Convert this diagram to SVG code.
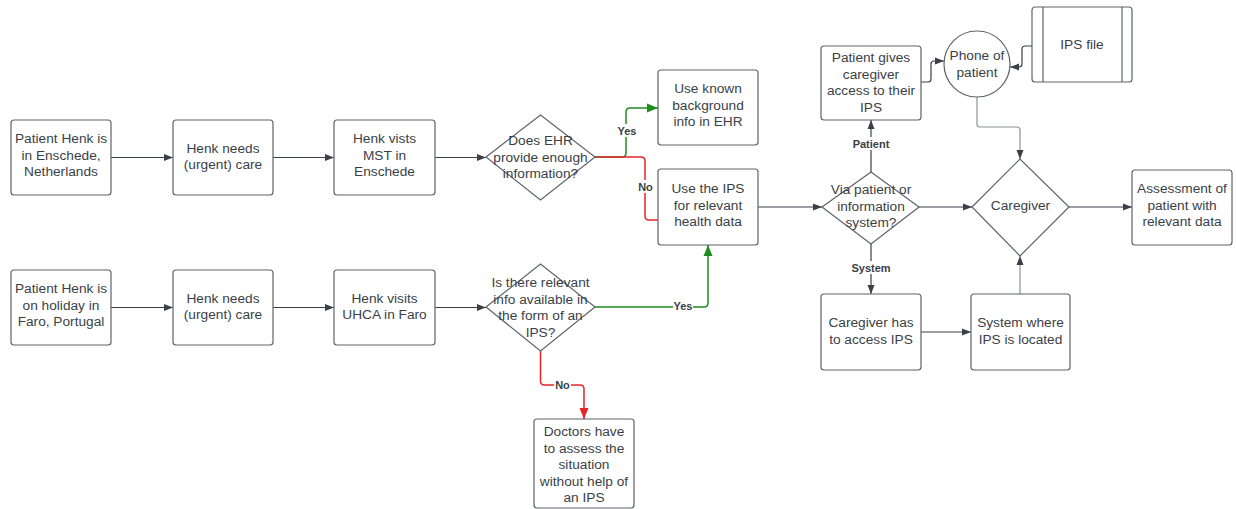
<svg xmlns="http://www.w3.org/2000/svg" width="1236" height="509" viewBox="0 0 1236 509">
  <style>
    .box { fill: #ffffff; stroke: #5f636a; stroke-width: 1.2; }
    .t { font-family: "Liberation Sans", Arial, sans-serif; font-size: 13.7px; fill: #3a3f47; text-anchor: middle; }
    .lbl { font-family: "Liberation Sans", Arial, sans-serif; font-size: 11px; font-weight: bold; fill: #3a3f47; text-anchor: middle; }
    .c { fill: none; stroke: #3a4048; stroke-width: 1.2; }
    .cg { fill: none; stroke: #1e8c1e; stroke-width: 1.5; }
    .cr { fill: none; stroke: #e5262a; stroke-width: 1.5; }
    .cl { fill: none; stroke: #8c9198; stroke-width: 1.2; }
  </style>
  <defs>
    <marker id="ad" markerUnits="userSpaceOnUse" markerWidth="10" markerHeight="8" refX="9" refY="4" orient="auto">
      <path d="M0,0.5 L9,4 L0,7.5 z" fill="#3a4048"/>
    </marker>
    <marker id="ag" markerUnits="userSpaceOnUse" markerWidth="12" markerHeight="10" refX="11" refY="5" orient="auto">
      <path d="M0,0.5 L11,5 L0,9.5 z" fill="#1e8c1e"/>
    </marker>
    <marker id="ar" markerUnits="userSpaceOnUse" markerWidth="12" markerHeight="10" refX="11" refY="5" orient="auto">
      <path d="M0,0.5 L11,5 L0,9.5 z" fill="#e5262a"/>
    </marker>
    <marker id="al" markerUnits="userSpaceOnUse" markerWidth="10" markerHeight="8" refX="9" refY="4" orient="auto">
      <path d="M0,0.5 L9,4 L0,7.5 z" fill="#3a4048"/>
    </marker>
  </defs>

  <!-- connectors -->
  <g id="connectors">
    <path class="c" d="M111,157.5 H173" marker-end="url(#ad)"/>
    <path class="c" d="M273,157.5 H334" marker-end="url(#ad)"/>
    <path class="c" d="M435,157.5 H486" marker-end="url(#ad)"/>
    <path class="c" d="M111,307.5 H173" marker-end="url(#ad)"/>
    <path class="c" d="M273,307.5 H334" marker-end="url(#ad)"/>
    <path class="c" d="M435,307.5 H486" marker-end="url(#ad)"/>

    <path class="cg" d="M595,157 H622 Q626,157 626,153 V112 Q626,108 630,108 H658" marker-end="url(#ag)"/>
    <path class="cr" d="M595,157 H641 Q645,157 645,161 V216 Q645,220 649,220 H658"/>
    <path class="cg" d="M595,307 H704 Q708,307 708,303 V245" marker-end="url(#ag)"/>
    <path class="cr" d="M540.5,351 V381 Q540.5,385 544.5,385 H580 Q584,385 584,389 V419" marker-end="url(#ar)"/>

    <path class="c" d="M758,207 H822" marker-end="url(#ad)"/>
    <path class="c" d="M919,207 H972" marker-end="url(#ad)"/>
    <path class="c" d="M1069,207 H1132" marker-end="url(#ad)"/>
    <path class="c" d="M871,172 V120" marker-end="url(#ad)"/>
    <path class="c" d="M871,244 V294" marker-end="url(#ad)"/>
    <path class="c" d="M921,332 H971" marker-end="url(#ad)"/>
    <path class="cl" d="M1020,294 V256" marker-end="url(#al)"/>
    <path class="c" d="M921,82 H928 Q931,82 931,79 V64 Q931,61 934,61 H944" marker-end="url(#ad)"/>
    <path class="c" d="M1032,46 H1025 Q1022,46 1022,49 V64 Q1022,67 1019,67 H1010" marker-end="url(#ad)"/>
    <path class="cl" d="M977,97 V124 Q977,127 980,127 H1017 Q1020,127 1020,130 V159" marker-end="url(#al)"/>

    <!-- connector labels -->
    <rect x="617" y="124" width="20" height="13" fill="#ffffff"/>
    <text class="lbl" x="627" y="135">Yes</text>
    <rect x="637" y="180" width="17" height="13" fill="#ffffff"/>
    <text class="lbl" x="645.5" y="191">No</text>
    <rect x="673" y="300" width="20" height="13" fill="#ffffff"/>
    <text class="lbl" x="683" y="310">Yes</text>
    <rect x="554" y="379" width="17" height="13" fill="#ffffff"/>
    <text class="lbl" x="562.5" y="389">No</text>
    <rect x="851" y="137" width="40" height="13" fill="#ffffff"/>
    <text class="lbl" x="871" y="148">Patient</text>
    <rect x="851" y="261" width="40" height="13" fill="#ffffff"/>
    <text class="lbl" x="871" y="272">System</text>
  </g>

  <!-- Enschede row -->
  <g id="n-enschede">
    <rect class="box" x="11" y="120" width="100" height="75" rx="3"/>
    <text class="t" x="61" y="143"><tspan x="61">Patient Henk is</tspan><tspan x="61" dy="16.5">in Enschede,</tspan><tspan x="61" dy="16.5">Netherlands</tspan></text>
  </g>
  <g id="n-care1">
    <rect class="box" x="173" y="120" width="100" height="75" rx="3"/>
    <text class="t" x="223" y="152.5"><tspan x="223">Henk needs</tspan><tspan x="223" dy="16.5">(urgent) care</tspan></text>
  </g>
  <g id="n-mst">
    <rect class="box" x="334" y="120" width="101" height="75" rx="3"/>
    <text class="t" x="384.5" y="143"><tspan x="384.5">Henk vists</tspan><tspan x="384.5" dy="16.5">MST in</tspan><tspan x="384.5" dy="16.5">Enschede</tspan></text>
  </g>
  <g id="d-ehr">
    <polygon class="box" points="486,157 540.5,115 595,157 540.5,200"/>
    <text class="t" x="540.5" y="145"><tspan x="540.5">Does EHR</tspan><tspan x="540.5" dy="16.5">provide enough</tspan><tspan x="540.5" dy="16.5">information?</tspan></text>
  </g>
  <g id="n-known">
    <rect class="box" x="658" y="70" width="100" height="75" rx="3"/>
    <text class="t" x="708" y="93"><tspan x="708">Use known</tspan><tspan x="708" dy="16.5">background</tspan><tspan x="708" dy="16.5">info in EHR</tspan></text>
  </g>
  <g id="n-use-ips">
    <rect class="box" x="658" y="169" width="100" height="76" rx="3"/>
    <text class="t" x="708" y="193"><tspan x="708">Use the IPS</tspan><tspan x="708" dy="16.5">for relevant</tspan><tspan x="708" dy="16.5">health data</tspan></text>
  </g>

  <!-- Faro row -->
  <g id="n-faro">
    <rect class="box" x="11" y="270" width="100" height="75" rx="3"/>
    <text class="t" x="61" y="293"><tspan x="61">Patient Henk is</tspan><tspan x="61" dy="16.5">on holiday in</tspan><tspan x="61" dy="16.5">Faro, Portugal</tspan></text>
  </g>
  <g id="n-care2">
    <rect class="box" x="173" y="270" width="100" height="75" rx="3"/>
    <text class="t" x="223" y="302.5"><tspan x="223">Henk needs</tspan><tspan x="223" dy="16.5">(urgent) care</tspan></text>
  </g>
  <g id="n-uhca">
    <rect class="box" x="334" y="270" width="101" height="75" rx="3"/>
    <text class="t" x="384.5" y="302.5"><tspan x="384.5">Henk visits</tspan><tspan x="384.5" dy="16.5">UHCA in Faro</tspan></text>
  </g>
  <g id="d-ips">
    <polygon class="box" points="486,307 540.5,264 595,307 540.5,351"/>
    <text class="t" x="540.5" y="287"><tspan x="540.5">Is there relevant</tspan><tspan x="540.5" dy="16.5">info available in</tspan><tspan x="540.5" dy="16.5">the form of an</tspan><tspan x="540.5" dy="16.5">IPS?</tspan></text>
  </g>
  <g id="n-doctors">
    <rect class="box" x="534" y="419" width="100" height="89" rx="3"/>
    <text class="t" x="584" y="436"><tspan x="584">Doctors have</tspan><tspan x="584" dy="16.5">to assess the</tspan><tspan x="584" dy="16.5">situation</tspan><tspan x="584" dy="16.5">without help of</tspan><tspan x="584" dy="16.5">an IPS</tspan></text>
  </g>

  <!-- access paths -->
  <g id="d-via">
    <polygon class="box" points="822,207 871,172 919,207 871,244"/>
    <text class="t" x="871" y="194"><tspan x="871">Via patient or</tspan><tspan x="871" dy="16.5">information</tspan><tspan x="871" dy="16.5">system?</tspan></text>
  </g>
  <g id="n-gives">
    <rect class="box" x="821" y="46" width="100" height="74" rx="3"/>
    <text class="t" x="871" y="62"><tspan x="871">Patient gives</tspan><tspan x="871" dy="16.5">caregiver</tspan><tspan x="871" dy="16.5">access to their</tspan><tspan x="871" dy="16.5">IPS</tspan></text>
  </g>
  <g id="n-phone">
    <circle class="box" cx="977" cy="64" r="33"/>
    <text class="t" x="977" y="60"><tspan x="977">Phone of</tspan><tspan x="977" dy="16.5">patient</tspan></text>
  </g>
  <g id="n-ips-file">
    <rect class="box" x="1032" y="7" width="100" height="75" rx="3"/>
    <line class="box" x1="1043" y1="7" x2="1043" y2="82"/>
    <line class="box" x1="1122" y1="7" x2="1122" y2="82"/>
    <text class="t" x="1082" y="49">IPS file</text>
  </g>
  <g id="n-access">
    <rect class="box" x="821" y="294" width="100" height="76" rx="3"/>
    <text class="t" x="871" y="327"><tspan x="871">Caregiver has</tspan><tspan x="871" dy="16.5">to access IPS</tspan></text>
  </g>
  <g id="n-system">
    <rect class="box" x="971" y="294" width="99" height="76" rx="3"/>
    <text class="t" x="1020.5" y="327"><tspan x="1020.5">System where</tspan><tspan x="1020.5" dy="16.5">IPS is located</tspan></text>
  </g>
  <g id="d-caregiver">
    <polygon class="box" points="972,207 1020,159 1069,207 1020,256"/>
    <text class="t" x="1020.5" y="210">Caregiver</text>
  </g>
  <g id="n-assessment">
    <rect class="box" x="1132" y="170" width="100" height="75" rx="3"/>
    <text class="t" x="1182" y="193"><tspan x="1182">Assessment of</tspan><tspan x="1182" dy="16.5">patient with</tspan><tspan x="1182" dy="16.5">relevant data</tspan></text>
  </g>
</svg>
